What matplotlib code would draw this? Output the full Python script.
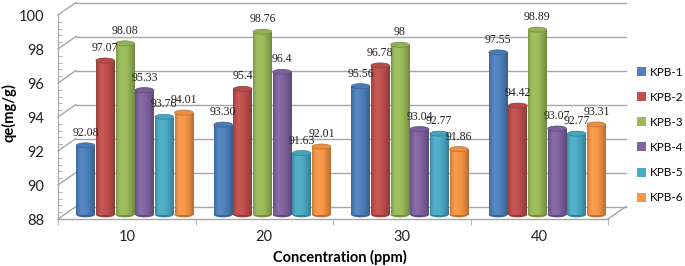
import matplotlib.pyplot as plt
import numpy as np
from matplotlib.patches import Rectangle, Ellipse, Patch

# data
concentrations = ['10', '20', '30', '40']
series = ['KPB-1', 'KPB-2', 'KPB-3', 'KPB-4', 'KPB-5', 'KPB-6']
kpb1 = [92.08, 93.30, 95.56, 97.55]
kpb2 = [97.07, 95.4, 96.78, 94.42]
kpb3 = [98.08, 98.76, 98.0, 98.89]
kpb4 = [95.33, 96.4, 93.04, 93.07]
kpb5 = [93.76, 91.63, 92.77, 92.77]
kpb6 = [94.01, 92.01, 91.86, 93.31]
labels = [
    ['92.08', '93.30', '95.56', '97.55'],
    ['97.07', '95.4', '96.78', '94.42'],
    ['98.08', '98.76', '98', '98.89'],
    ['95.33', '96.4', '93.04', '93.07'],
    ['93.76', '91.63', '92.77', '92.77'],
    ['94.01', '92.01', '91.86', '93.31'],
]
values = [kpb1, kpb2, kpb3, kpb4, kpb5, kpb6]
colors = ['#4F81BD', '#C0504D', '#9BBB59', '#8064A2', '#4BACC6', '#F79646']

ymin, ymax = 88, 100
grid_c = '#A6A6A6'
tick_font = 'Lato'

fig = plt.figure(figsize=(6.85, 2.66), dpi=100)
ax = fig.add_axes([58 / 685, 1 - 219 / 266, 550 / 685, 204 / 266])

# pseudo 3D offsets (data units)
wall_dx, wall_dy = 0.131, 0.735
bar_dx, bar_dy = 0.058, 0.25
width = 0.143


def shade(c, f):
    c = np.array(plt.matplotlib.colors.to_rgb(c))
    if f <= 1:
        return c * f
    return c + (1 - c) * (f - 1)


t = np.linspace(0, 1, 64)
prof = np.where(t < 0.3, 0.8 + 0.25 * np.sin(t / 0.3 * np.pi / 2),
                1.05 - 0.33 * ((t - 0.3) / 0.7) ** 1.8)

# back wall grid lines + side diagonals
for v in range(ymin, ymax + 1, 2):
    ax.plot([-0.5, -0.5 + wall_dx], [v, v + wall_dy], color=grid_c, lw=1, clip_on=False, zorder=1)
    ax.plot([-0.5 + wall_dx, 3.5 + wall_dx], [v + wall_dy, v + wall_dy], color=grid_c, lw=1,
            clip_on=False, zorder=1)
# floor
ax.plot([-0.5, 3.5], [ymin, ymin], color=grid_c, lw=1, clip_on=False, zorder=1)
ax.plot([3.5, 3.5 + wall_dx], [ymin, ymin + wall_dy], color=grid_c, lw=1, clip_on=False, zorder=1)

x = np.arange(len(concentrations))
for i, (vals, col) in enumerate(zip(values, colors)):
    grad = np.array([[shade(col, f) for f in prof]])
    for j, v in enumerate(vals):
        cx = x[j] + bar_dx + (i - 2.5) * width
        x0 = cx - width / 2 + 0.004
        w = width - 0.008
        b0 = ymin + bar_dy
        top = v + bar_dy
        rect = Rectangle((x0, b0), w, top - b0, facecolor='none', edgecolor='none')
        ax.add_patch(rect)
        im = ax.imshow(grad, extent=[x0, x0 + w, b0, top], aspect='auto', zorder=3,
                       interpolation='bilinear')
        im.set_clip_path(rect)
        ax.add_patch(Ellipse((cx, b0), w, 0.3, facecolor=shade(col, 0.75), edgecolor='none', zorder=2.9))
        ax.add_patch(Ellipse((cx, top), w, 0.3, facecolor=shade(col, 0.95),
                             edgecolor=shade(col, 0.75), lw=0.5, zorder=4))
        ax.annotate(labels[i][j], (cx, top), xytext=(0, 9), textcoords='offset points',
                    ha='center', va='center', fontsize=8.5, family='Liberation Serif',
                    color='#222222', zorder=5)

ax.set_xlim(-0.5, 3.5)
ax.set_ylim(ymin, ymax)
for s in ['top', 'right', 'bottom']:
    ax.spines[s].set_visible(False)
ax.spines['left'].set_color(grid_c)

ax.set_yticks(range(ymin, ymax + 1, 2))
ax.set_yticks(np.arange(ymin, ymax + 0.01, 0.4), minor=True)
ax.tick_params(axis='y', which='major', length=0, pad=10, labelsize=10.5, labelcolor='#222222')
ax.tick_params(axis='y', which='minor', direction='in', length=3, color=grid_c)
ax.set_xticks(x)
ax.set_xticklabels(concentrations)
ax.set_xticks(np.arange(-0.5, 3.6, 1), minor=True)
ax.tick_params(axis='x', which='major', length=0, pad=8, labelsize=10.5, labelcolor='#222222')
ax.tick_params(axis='x', which='minor', direction='out', length=4, color=grid_c)
for lab in ax.get_xticklabels() + ax.get_yticklabels():
    lab.set_family(tick_font)

fig.text(340 / 685, 1 - 257 / 266, 'Concentration (ppm)', ha='center', va='center',
         fontsize=10.5, fontweight='bold', family=tick_font)
fig.text(9 / 685, 1 - 113 / 266, 'qe(mg/g)', ha='center', va='center', rotation=90,
         fontsize=10.5, fontweight='bold', family=tick_font)

handles = [Patch(facecolor=c, edgecolor='none') for c in colors]
fig.legend(handles, series, loc='center left', bbox_to_anchor=(637 / 685, 1 - 135 / 266),
           frameon=False, handlelength=0.8, handleheight=0.8, handletextpad=0.3,
           labelspacing=1.2, borderpad=0, borderaxespad=0,
           prop={'family': tick_font, 'size': 8.5})

fig.savefig('out.png', dpi=100)
